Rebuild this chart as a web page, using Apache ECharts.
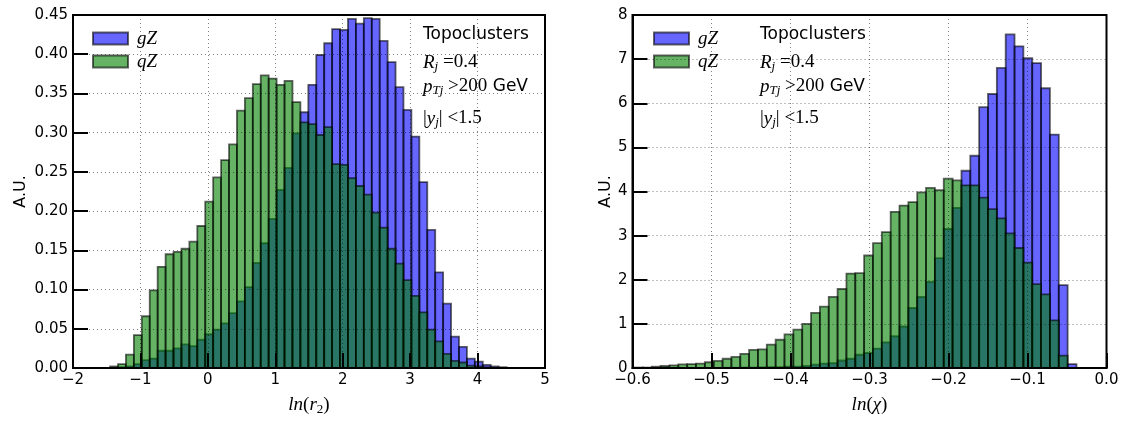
<!DOCTYPE html>
<html>
<head>
<meta charset="utf-8">
<script src="https://cdn.jsdelivr.net/npm/echarts@6/dist/echarts.min.js"></script>
<style>
  html, body { margin: 0; padding: 0; background: #fff; }
  #chart { width: 1125px; height: 422px; }
</style>
</head>
<body>
<div id="chart"></div>
<script>
// ln(r2) histograms: 50 equal bins between the range ends
const r2Range = [-1.45, 4.43];
const gZ_r2 = [0.000, 0.001, 0.002, 0.005, 0.010, 0.012, 0.022, 0.022, 0.025, 0.030,
               0.028, 0.036, 0.043, 0.049, 0.057, 0.070, 0.085, 0.103, 0.134, 0.159,
               0.190, 0.227, 0.255, 0.299, 0.326, 0.361, 0.399, 0.414, 0.432, 0.431,
               0.445, 0.439, 0.446, 0.445, 0.417, 0.390, 0.358, 0.329, 0.295, 0.237,
               0.176, 0.122, 0.082, 0.040, 0.027, 0.012, 0.008, 0.004, 0.002, 0.001];
const qZ_r2 = [0.002, 0.005, 0.017, 0.042, 0.066, 0.099, 0.129, 0.145, 0.148, 0.152,
               0.161, 0.181, 0.212, 0.243, 0.265, 0.285, 0.328, 0.344, 0.362, 0.373,
               0.369, 0.361, 0.366, 0.339, 0.313, 0.311, 0.297, 0.307, 0.260, 0.259,
               0.242, 0.232, 0.221, 0.198, 0.179, 0.152, 0.133, 0.112, 0.092, 0.071,
               0.049, 0.034, 0.018, 0.009, 0.007, 0.003, 0.002, 0.001, 0.000, 0.000];

// ln(chi) histograms
const chiRange = [-0.598, -0.038];
const gZ_chi = [0.00, 0.00, 0.00, 0.00, 0.00, 0.00, 0.00, 0.00, 0.00, 0.00,
                0.005, 0.005, 0.01, 0.01, 0.015, 0.02, 0.02, 0.03, 0.03, 0.05,
                0.075, 0.10, 0.11, 0.17, 0.21, 0.30, 0.34, 0.44, 0.58, 0.72,
                0.94, 1.36, 1.61, 1.95, 2.49, 3.15, 3.63, 4.47, 4.81, 5.91,
                6.21, 6.80, 7.56, 7.29, 7.02, 6.91, 6.34, 5.29, 1.88, 0.09];
const qZ_chi = [0.01, 0.01, 0.03, 0.045, 0.06, 0.08, 0.09, 0.10, 0.13, 0.16,
                0.21, 0.25, 0.32, 0.41, 0.42, 0.53, 0.64, 0.76, 0.87, 1.00,
                1.25, 1.39, 1.61, 1.79, 2.14, 2.15, 2.55, 2.83, 3.08, 3.54,
                3.68, 3.76, 3.98, 4.08, 4.03, 4.29, 4.25, 4.14, 4.14, 3.86,
                3.60, 3.39, 3.05, 2.72, 2.39, 1.90, 1.67, 1.08, 0.28, 0.00];

// axis tick values
const r2Ticks = [-2, -1, 0, 1, 2, 3, 4, 5];
const r2YTicks = [0, 0.05, 0.10, 0.15, 0.20, 0.25, 0.30, 0.35, 0.40, 0.45];
const chiTicks = [-0.6, -0.5, -0.4, -0.3, -0.2, -0.1, 0.0];
const chiYTicks = [0, 1, 2, 3, 4, 5, 6, 7, 8];

const seriesNames = ['gZ', 'qZ'];
const annotation = ['Topoclusters', 'R_j =0.4', 'p_Tj >200 GeV', '|y_j| <1.5'];

// ---- helpers ----
function toBins(range, counts) {
  const w = (range[1] - range[0]) / counts.length;
  return counts.map((c, i) => [range[0] + i * w, range[0] + (i + 1) * w, c]);
}

const FILL = { gZ: 'rgba(0,0,255,0.6)', qZ: 'rgba(0,128,0,0.6)' };
const EDGE = 'rgba(0,0,0,0.6)';

function binRenderer(fill) {
  return function (params, api) {
    const lo = api.coord([api.value(0), 0]);
    const hi = api.coord([api.value(1), api.value(2)]);
    return {
      type: 'rect',
      shape: { x: lo[0], y: hi[1], width: hi[0] - lo[0], height: lo[1] - hi[1] },
      style: { fill: fill, stroke: EDGE, lineWidth: 1.8 }
    };
  };
}

function histSeries(name, idx, range, counts) {
  return {
    type: 'custom',
    name: name,
    xAxisIndex: idx,
    yAxisIndex: idx,
    z: 2,
    renderItem: binRenderer(FILL[name]),
    itemStyle: { color: FILL[name], borderColor: EDGE, borderWidth: 1 },
    encode: { x: [0, 1], y: 2 },
    data: toBins(range, counts)
  };
}

const minus = s => String(s).replace('-', '\u2212');

const mathRich = {
  i: { fontFamily: 'Liberation Serif', fontStyle: 'italic', fontSize: 19, lineHeight: 22, color: '#000' },
  n: { fontFamily: 'Liberation Serif', fontSize: 19, lineHeight: 22, color: '#000' },
  si: { fontFamily: 'Liberation Serif', fontStyle: 'italic', fontSize: 13, lineHeight: 12, verticalAlign: 'bottom', color: '#000' },
  sn: { fontFamily: 'Liberation Serif', fontSize: 13, lineHeight: 12, verticalAlign: 'bottom', color: '#000' },
  s: { fontFamily: 'DejaVu Sans', fontSize: 17, lineHeight: 22, color: '#000' }
};

const tickLabel = { fontFamily: 'DejaVu Sans', fontSize: 15, color: '#000' };
const gridLine = { show: true, lineStyle: { color: 'rgba(0,0,0,0.5)', width: 1, type: [1, 3] } };
const tickStyle = { show: true, inside: true, length: 15, lineStyle: { color: '#000', width: 2 } };
const spine = { show: true, onZero: false, lineStyle: { color: '#000', width: 2 } };

function xAxis(idx, lo, hi, step, fmt, name) {
  return {
    type: 'value', gridIndex: idx, min: lo, max: hi, interval: step, z: 5,
    axisLine: spine, axisTick: tickStyle, splitLine: gridLine,
    axisLabel: Object.assign({ margin: 5, formatter: fmt, showMinLabel: true, showMaxLabel: true }, tickLabel),
    name: name, nameLocation: 'middle', nameGap: 26,
    nameTextStyle: { rich: mathRich }
  };
}
function yAxis(idx, lo, hi, step, fmt, gap) {
  return {
    type: 'value', gridIndex: idx, min: lo, max: hi, interval: step, z: 5,
    axisLine: spine, axisTick: tickStyle, splitLine: gridLine,
    axisLabel: Object.assign({ margin: 5, formatter: fmt, showMinLabel: true, showMaxLabel: true }, tickLabel),
    name: 'A.U.', nameLocation: 'middle', nameRotate: 90, nameGap: gap,
    nameTextStyle: { fontFamily: 'DejaVu Sans', fontSize: 16, color: '#000' }
  };
}

function legendAt(left) {
  return {
    left: left, top: 24, orient: 'vertical', icon: 'rect',
    itemWidth: 35, itemHeight: 12, itemGap: 4,
    data: seriesNames,
    formatter: n => '{m|' + n + '}',
    textStyle: { rich: { m: { fontFamily: 'Liberation Serif', fontStyle: 'italic', fontSize: 19, lineHeight: 22, padding: [0, 0, 0, 4], color: '#000' } } }
  };
}

function annotationBlock(left) {
  const base = { fontFamily: 'DejaVu Sans', fontSize: 17, fill: '#000' };
  return [
    { type: 'text', left: left, top: 26, z: 10, style: Object.assign({ text: annotation[0] }, base) },
    { type: 'text', left: left, top: 53, z: 10, style: { text: '{i|R}{si|j}{n| =0.4}', rich: mathRich } },
    { type: 'text', left: left, top: 77, z: 10, style: { text: '{i|p}{si|Tj}{n| >200}{s| GeV}', rich: mathRich } },
    { type: 'text', left: left, top: 109, z: 10, style: { text: '{n||}{i|y}{si|j}{n|| <1.5}', rich: mathRich } }
  ];
}

const chart = echarts.init(document.getElementById('chart'), null, { renderer: 'canvas' });
chart.setOption({
  animation: false,
  backgroundColor: '#fff',
  grid: [
    { left: 73, right: 580, top: 15, bottom: 54, show: true, borderColor: '#000', borderWidth: 2, backgroundColor: 'transparent' },
    { left: 632.5, right: 18.5, top: 15, bottom: 54, show: true, borderColor: '#000', borderWidth: 2, backgroundColor: 'transparent' }
  ],
  xAxis: [
    xAxis(0, r2Ticks[0], r2Ticks[r2Ticks.length - 1], r2Ticks[1] - r2Ticks[0], v => minus(Math.round(v)),
      '{i|ln}{n|(}{i|r}{sn|2}{n|)}'),
    xAxis(1, chiTicks[0], chiTicks[chiTicks.length - 1], 0.1, v => minus(v.toFixed(1)),
      '{i|ln}{n|(}{i|χ}{n|)}')
  ],
  yAxis: [
    yAxis(0, r2YTicks[0], r2YTicks[r2YTicks.length - 1], 0.05, v => v.toFixed(2), 44),
    yAxis(1, chiYTicks[0], chiYTicks[chiYTicks.length - 1], 1, v => String(Math.round(v)), 19)
  ],
  legend: [legendAt(87), legendAt(648)],
  graphic: annotationBlock(423).concat(annotationBlock(760)),
  series: [
    histSeries('gZ', 0, r2Range, gZ_r2),
    histSeries('qZ', 0, r2Range, qZ_r2),
    histSeries('gZ', 1, chiRange, gZ_chi),
    histSeries('qZ', 1, chiRange, qZ_chi)
  ]
});
</script>
</body>
</html>
